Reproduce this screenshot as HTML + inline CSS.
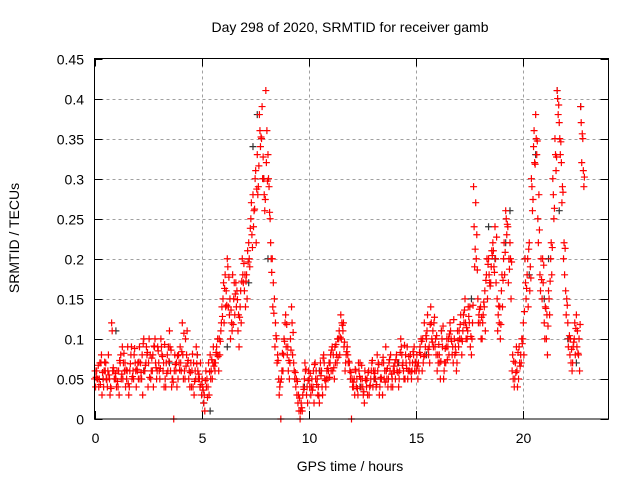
<!DOCTYPE html>
<html><head><meta charset="utf-8"><style>
body{margin:0;background:#fff}
svg{display:block;font-family:"Liberation Sans",sans-serif}
</style></head><body>
<svg id="chart" width="640" height="480" viewBox="0 0 640 480" xmlns="http://www.w3.org/2000/svg">
<text x="350" y="32" font-size="14" text-anchor="middle">Day 298 of 2020, SRMTID for receiver gamb</text>
<text x="350" y="471" font-size="14" text-anchor="middle">GPS time / hours</text>
<text transform="translate(19,238) rotate(-90)" font-size="14" text-anchor="middle">SRMTID / TECUs</text>
<g id="grid"></g>
<g id="axes"></g>
<g id="marks"></g>
<rect x="94.5" y="58.5" width="514" height="360.5" fill="none" stroke="#000" stroke-width="1"/>
</svg>
<script>
const xTicks=[0,5,10,15,20];
const yTicks=[0,0.05,0.1,0.15,0.2,0.25,0.3,0.35,0.4,0.45];
const yTickLabels=["0","0.05","0.1","0.15","0.2","0.25","0.3","0.35","0.4","0.45"];
const redStep=0.1;
const redOffsets=[0,0.05,0.025,0.075];
const red1=[.05,.06,.04,.07,.05,.06,.04,.05,.12,.06,.05,.04,.07,.09,.06,.05,.03,.08,.06,.07,.06,.09,.05,.1,.07,.04,.08,.06,.09,.05,.07,.1,.06,.05,.08,.11,.04,0,.06,.05,.09,.12,.06,.08,.05,.07,.04,.06,.08,.05,.03,.02,.06,.04,.08,.05,.07,.09,.06,.11,.15,.18,.2,.13,.12,.15,.17,.11,.14,.2,.16,.18,.22,.25,.28,.3,.33,.38,.35,.3,.41,.33,.25,.2,.15,.1,.05,0,.06,.12,.08,.05,.14,.07,.04,.02,0,.01,.05,.03,.06,.03,.04,.07,.05,.02,.06,.08,.04,.05,.07,.09,.05,.08,.1,.13,.11,.06,.09,.07,0,.04,.06,.03,.07,.05,.02,.04,.06,.05,.04,.06,.08,.03,.05,.07,.09,.04,.06,.05,.06,.08,.04,.1,.07,.05,.09,.06,.05,.08,.07,.05,.09,.06,.12,.1,.08,.14,.11,.09,.06,.08,.11,.05,.07,.09,.12,.08,.1,.06,.09,.13,.11,.15,.1,.12,.08,.29,.27,.15,.12,.1,.14,.18,.2,.17,.22,.24,.15,.12,.16,.2,.26,.24,.22,.06,.04,.09,.05,.08,.1,.2,.18,.22,.3,.34,.38,.25,.18,.15,.12,.1,.16,.2,.3,.35,.41,.37,.32,.2,.16,.12,.08,.06,.1,.13,.08,.39,.35];
const red2=[.04,.05,.07,.03,.06,.05,.08,.04,.06,.05,.06,.03,.05,.07,.04,.09,.06,.05,.08,.04,.05,.07,.03,.06,.08,.1,.06,.04,.07,.09,.05,.08,.04,.07,.09,.06,.05,.08,.04,.07,.06,.05,.1,.07,.04,.06,.03,.09,.05,.07,.04,.01,.05,.03,.06,.09,.07,.1,.08,.14,.12,.16,.14,.1,.18,.13,.16,.09,.12,.17,.14,.21,.19,.23,.26,.22,.29,.34,.3,.26,.36,.29,.2,.17,.12,.08,.04,.06,.1,.09,.06,.1,.08,.05,.03,.01,.02,.04,.06,.02,.04,.05,.02,.06,.04,.07,.03,.05,.06,.07,.06,.08,.07,.1,.08,.12,.09,.08,.07,.05,.04,.03,.05,.06,.04,.03,.05,.03,.04,.07,.05,.04,.07,.05,.03,.06,.05,.07,.04,.06,.05,.07,.06,.08,.05,.07,.06,.08,.07,.06,.08,.06,.1,.07,.09,.13,.07,.1,.12,.08,.07,.05,.09,.07,.1,.08,.1,.07,.09,.11,.1,.08,.12,.1,.14,.09,.12,.19,.23,.13,.1,.13,.11,.15,.17,.21,.19,.17,.13,.1,.14,.18,.23,.2,.15,.05,.07,.04,.07,.1,.08,.15,.14,.19,.26,.32,.33,.28,.2,.17,.14,.08,.13,.18,.25,.31,.38,.33,.29,.18,.15,.1,.07,.09,.08,.11,.06,.32,.29];
const red3=[.06,.05,.05,.08,.04,.07,.06,.03,.11,.05,.04,.06,.08,.05,.07,.06,.04,.09,.05,.06,.07,.05,.08,.06,.09,.07,.05,.08,.1,.06,.06,.09,.07,.04,.06,.09,.05,.06,.07,.08,.07,.08,.05,.11,.06,.04,.07,.05,.06,.04,.05,.03,.04,.07,.05,.07,.06,.08,.1,.12,.17,.14,.19,.15,.11,.17,.14,.13,.16,.18,.18,.15,.2,.27,.24,.31,.28,.36,.39,.28,.32,.3,.22,.14,.09,.07,.03,.05,.08,.13,.09,.07,.12,.06,.05,.03,.01,.03,.07,.04,.05,.04,.06,.05,.03,.06,.04,.07,.05,.06,.08,.06,.09,.07,.11,.1,.12,.07,.08,.06,.05,.05,.04,.07,.05,.04,.06,.05,.03,.06,.06,.05,.06,.04,.07,.05,.06,.05,.08,.04,.07,.06,.05,.09,.06,.08,.05,.07,.06,.09,.06,.07,.08,.1,.08,.11,.09,.12,.09,.1,.08,.07,.1,.06,.09,.1,.11,.09,.08,.07,.11,.1,.13,.12,.11,.14,.1,.24,.2,.12,.14,.12,.16,.2,.18,.19,.21,.2,.11,.14,.18,.22,.25,.17,.2,.08,.05,.06,.09,.07,.12,.17,.2,.16,.29,.36,.35,.22,.16,.2,.1,.13,.15,.22,.28,.33,.4,.35,.27,.22,.13,.09,.1,.07,.12,.09,.1,.37,.31];
const red4=[.052,.067,.043,.058,.071,.049,.055,.038,.064,.057,.047,.073,.056,.082,.061,.044,.069,.053,.088,.062,.071,.058,.094,.067,.083,.052,.076,.091,.064,.085,.063,.078,.093,.057,.072,.086,.046,.068,.079,.061,.084,.107,.066,.073,.058,.081,.047,.069,.056,.043,.036,.048,.027,.059,.074,.066,.083,.078,.097,.128,.163,.142,.177,.136,.118,.156,.149,.127,.172,.194,.172,.196,.238,.214,.262,.287,.316,.352,.327,.274,.297,.258,.183,.132,.104,.073,.046,.082,.097,.118,.073,.086,.108,.058,.047,.026,.014,.037,.062,.048,.057,.036,.068,.043,.029,.054,.076,.048,.063,.052,.086,.064,.093,.077,.102,.117,.096,.084,.072,.058,.046,.062,.038,.053,.067,.034,.048,.058,.042,.073,.057,.043,.068,.052,.077,.046,.063,.074,.056,.066,.074,.058,.083,.067,.092,.063,.078,.059,.084,.071,.066,.083,.097,.078,.104,.087,.118,.096,.127,.104,.093,.072,.116,.088,.074,.106,.097,.124,.083,.098,.118,.097,.136,.114,.128,.103,.142,.212,.186,.137,.127,.146,.173,.193,.166,.204,.183,.227,.141,.118,.173,.208,.243,.187,.196,.072,.058,.083,.066,.094,.134,.163,.212,.176,.274,.318,.347,.236,.174,.192,.138,.116,.172,.214,.263,.327,.392,.346,.283,.213,.142,.104,.087,.096,.113,.082,.118,.356,.302];
const blackTimes=[0.4,1.0,2.3,3.5,4.8,5.1,5.4,6.2,7.2,7.4,7.6,7.9,8.1,9.8,10.5,12.4,13.1,14.2,15.5,16.2,17.6,18.4,18.7,19.2,19.4,20.1,20.3,20.6,21.0,21.2,21.6,21.7,22.1,22.5,22.7];
const blackValues=[.05,.11,.06,.07,.08,.02,.01,.09,.17,.34,.38,.3,.2,.04,.06,.04,.05,.07,.08,.11,.15,.24,.2,.22,.26,.2,.18,.33,.15,.2,.41,.26,.1,.07,.39];

const X0=94.5,X1=608.5,Y0=419,Y1=58.5,XMAX=24,YMAX=0.45;
function xs(t){return X0+(X1-X0)*t/XMAX;}
function ys(v){return Y0-(Y0-Y1)*v/YMAX;}
const NS="http://www.w3.org/2000/svg";
function mk(tag,attrs,parent){const e=document.createElementNS(NS,tag);for(const k in attrs)e.setAttribute(k,attrs[k]);parent.appendChild(e);return e;}
const grid=document.getElementById('grid'),axes=document.getElementById('axes'),marks=document.getElementById('marks');
yTicks.forEach((v,i)=>{
  const y=Math.round(ys(v))+0.5;
  if(i>0&&i<yTicks.length-1){const g=mk('line',{x1:X0,x2:X1,y1:y,y2:y,stroke:'#a0a0a0','stroke-dasharray':'3,3'},grid);
  
  }
  const t1=mk('line',{x1:X0,x2:X0+8,y1:y,y2:y,stroke:'#000'},axes);
  
  
  const t2=mk('line',{x1:X1-8,x2:X1,y1:y,y2:y,stroke:'#000'},axes);
  
  
  const lb=mk('text',{x:84,y:y+5,'font-size':14,'text-anchor':'end'},axes);
  lb.textContent=yTickLabels[i];
  
  
});
xTicks.forEach(v=>{
  const x=Math.round(xs(v))+0.5;
  if(v>0){const g=mk('line',{x1:x,x2:x,y1:Y1,y2:Y0,stroke:'#a0a0a0','stroke-dasharray':'3,3'},grid);
  
  }
  const t1=mk('line',{x1:x,x2:x,y1:Y0,y2:Y0-8,stroke:'#000'},axes);
  
  
  const t2=mk('line',{x1:x,x2:x,y1:Y1,y2:Y1+8,stroke:'#000'},axes);
  
  
  const lb=mk('text',{x:x,y:443,'font-size':14,'text-anchor':'middle'},axes);
  lb.textContent=String(v);
  
  
});
function cross(t,v,color,name){
  const x=xs(t),y=ys(v);
  const p=mk('path',{d:`M${x-3.5},${y}H${x+3.5}M${x},${y-3.5}V${y+3.5}`,stroke:color,'stroke-width':1.2,fill:'none'},marks);
  
  
}
blackTimes.forEach((t,i)=>cross(t,blackValues[i],'#333','black-point'));
[red1,red2,red3,red4].forEach((arr,si)=>arr.forEach((v,i)=>cross(i*redStep+redOffsets[si],v,'#ff0000','red-point')));
</script>
</body></html>
